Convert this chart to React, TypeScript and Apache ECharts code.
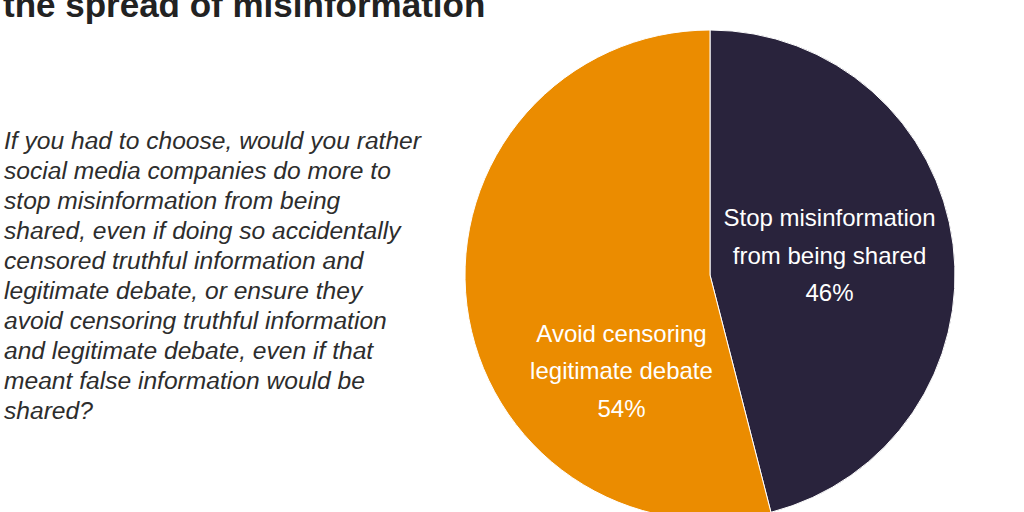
import React, { useEffect, useRef } from "react";
import * as echarts from "echarts";

const titleLine = "the spread of misinformation";
const questionLines = [
  "If you had to choose, would you rather",
  "social media companies do more to",
  "stop misinformation from being",
  "shared, even if doing so accidentally",
  "censored truthful information and",
  "legitimate debate, or ensure they",
  "avoid censoring truthful information",
  "and legitimate debate, even if that",
  "meant false information would be",
  "shared?",
];
const categories = ["Stop misinformation\nfrom being shared", "Avoid censoring\nlegitimate debate"];
const values = [46, 54];
const colors = ["#29233C", "#EB8C00"];
const labelOffsets = [[-5, -4], [36, 80]];

export default function App() {
  const ref = useRef<HTMLDivElement>(null);
  useEffect(() => {
    document.body.style.margin = "0";
    const chart = echarts.init(ref.current!, undefined, { renderer: "svg" });
    chart.setOption({
      animation: false,
      backgroundColor: "#ffffff",
      graphic: [
        {
          type: "text",
          x: 3,
          y: 4,
          style: {
            text: titleLine,
            font: "bold 35px 'Liberation Sans', Arial, sans-serif",
            fill: "#222222",
            verticalAlign: "middle",
          },
        },
        {
          type: "text",
          x: 4,
          y: 125,
          style: {
            text: questionLines.join("\n"),
            font: "italic 24.6px 'Liberation Sans', Arial, sans-serif",
            lineHeight: 30,
            fill: "#2d2d2d",
            verticalAlign: "top",
          },
        },
      ],
      series: [
        {
          type: "pie",
          center: [710, 275],
          radius: 245,
          startAngle: 90,
          clockwise: true,
          silent: true,
          itemStyle: { borderColor: "#ffffff", borderWidth: 1 },
          label: {
            show: true,
            position: "inside",
            formatter: "{b}\n{c}%",
            color: "#ffffff",
            fontSize: 24,
            lineHeight: 37.5,
            fontFamily: "'Liberation Sans', Arial, sans-serif",
            align: "center",
          },
          labelLine: { show: false },
          data: categories.map((name, i) => ({
            name,
            value: values[i],
            itemStyle: { color: colors[i] },
            label: { offset: labelOffsets[i] },
          })),
        },
      ],
    });
    return () => chart.dispose();
  }, []);
  return <div ref={ref} style={{ width: 1024, height: 512, position: "absolute", left: 0, top: 0 }} />;
}
